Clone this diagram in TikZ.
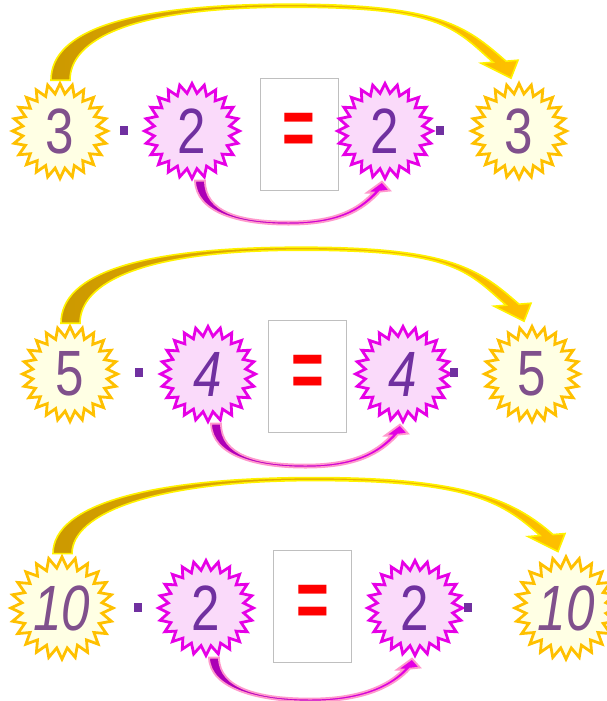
\documentclass[tikz,border=0pt]{standalone}
\usepackage{fontspec}
\setmainfont{Liberation Sans}
\usepackage{graphicx}
\usetikzlibrary{shapes.geometric,calc}
\definecolor{ystroke}{RGB}{255,192,0}
\definecolor{yfill}{RGB}{255,255,228}
\definecolor{mstroke}{RGB}{230,0,230}
\definecolor{mfill}{RGB}{250,218,250}
\definecolor{ytext}{RGB}{128,80,140}
\definecolor{mtext}{RGB}{112,48,160}
\definecolor{dotc}{RGB}{112,48,160}
\definecolor{brownA}{RGB}{204,153,0}
\definecolor{goldA}{RGB}{255,192,0}
\definecolor{pinkline}{RGB}{255,153,204}
\definecolor{purpA}{RGB}{170,0,180}
\definecolor{boxline}{RGB}{191,191,191}
\newcommand\digitfont{\fontsize{64}{64}\selectfont}
\newcommand\eqfont{\fontsize{56}{56}\selectfont\bfseries}
\newcommand\dg[1]{\scalebox{0.8}[1]{#1}}
\newcommand\dgi[1]{\scalebox{0.8}[1]{\itshape #1}}
\tikzset{
 ystar/.style={star, star points=24, star point ratio=1.27, minimum size=95pt, inner sep=0pt,
   draw=ystroke, fill=yfill, line width=2.8pt, text=ytext, font=\digitfont},
 mstar/.style={star, star points=24, star point ratio=1.25, minimum size=95pt, inner sep=0pt,
   draw=mstroke, fill=mfill, line width=2.8pt, text=mtext, font=\digitfont},
 eqbox/.style={rectangle, draw=boxline, fill=white, line width=0.8pt, minimum width=78pt,
   minimum height=112pt, inner sep=0pt, text=red, font=\eqfont},
 dotsq/.style={rectangle, fill=dotc, minimum width=8pt, minimum height=9pt, inner sep=0pt},
 yarrow/.style={draw=yellow, line width=1.6pt, left color=brownA, right color=goldA},
 parrow/.style={draw=pinkline, line width=1.8pt, left color=purpA, right color=mstroke},
}
\newcommand\yellowarrow[2]{%
 \coordinate (YS) at (#1.north);
 \coordinate (YM) at ($(#1.north)!.5!(#2.north)+(0,-76)$);
 \coordinate (YT) at ($(#2.north)+(-8,-2)$);
 \draw[yarrow] ($(YS)+(-9,0)$) .. controls +(0,-50) and +(-160,0) .. (YM)
   .. controls +(150,0) and +(-40,-35) .. ($(YT)+(-5,-17)$)
   -- ($(YT)+(7,-18)$) -- (YT) -- ($(YT)+(-30,-15)$) -- ($(YT)+(-18,-16)$)
   .. controls +(-40,-36) and +(150,0) .. ($(YM)+(0,3)$)
   .. controls +(-160,0) and +(0,-40) .. ($(YS)+(10,0)$) -- cycle;
}
\newcommand\pinkarrow[2]{%
 \coordinate (PS) at ($(#1.south)+(3,-1)$);
 \coordinate (PM) at ($(#1.south)!.5!(#2.south)+(0,43)$);
 \coordinate (PT) at ($(#2.south)+(-3,0)$);
 \draw[parrow] (PS) .. controls +(1,32) and +(-50,0) .. (PM)
   .. controls +(50,0) and +(-18,20) .. ($(PT)+(-2,10)$)
   -- ($(PT)+(8,9)$) -- (PT) -- ($(PT)+(-15,11)$) -- ($(PT)+(-9,11)$)
   .. controls +(-15,16) and +(48,0) .. ($(PM)+(0,-3)$)
   .. controls +(-48,0) and +(0,32) .. ($(PS)+(10,0)$) -- cycle;
}
\begin{document}
\begin{tikzpicture}[x=1pt,y=-1pt]
\useasboundingbox (0,0) rectangle (606,701);
% row 1
\node[ystar] (a1) at (60,131) {\dg{3}};
\node[dotsq] (p1) at (124,130) {};
\node[mstar] (b1) at (192,131) {\dg{2}};
\node[eqbox] (e1) at (299,134) {\scalebox{1}[1.45]{=}};
\node[mstar] (c1) at (385,131) {\dg{2}};
\node[dotsq] (q1) at (440,130) {};
\node[ystar] (d1) at (519,131) {\dg{3}};
\yellowarrow{a1}{d1}
\pinkarrow{b1}{c1}
% row 2
\node[ystar] (a2) at (70,374) {\dg{5}};
\node[dotsq] (p2) at (139,372) {};
\node[mstar] (b2) at (208,374) {\dgi{4}};
\node[eqbox] (e2) at (307.5,376.5) {\scalebox{1}[1.45]{=}};
\node[mstar] (c2) at (403,374) {\dgi{4}};
\node[dotsq] (q2) at (454,372) {};
\node[ystar] (d2) at (532,374) {\dg{5}};
\yellowarrow{a2}{d2}
\pinkarrow{b2}{c2}
% row 3
\node[ystar] (a3) at (62,608) {\dgi{10}};
\node[dotsq] (p3) at (138,607) {};
\node[mstar] (b3) at (206,608) {\dg{2}};
\node[eqbox] (e3) at (312.5,606) {\scalebox{1}[1.45]{=}};
\node[mstar] (c3) at (415,608) {\dg{2}};
\node[dotsq] (q3) at (468,607) {};
\node[ystar] (d3) at (566,608) {\dgi{10}};
\yellowarrow{a3}{d3}
\pinkarrow{b3}{c3}
\end{tikzpicture}
\end{document}
